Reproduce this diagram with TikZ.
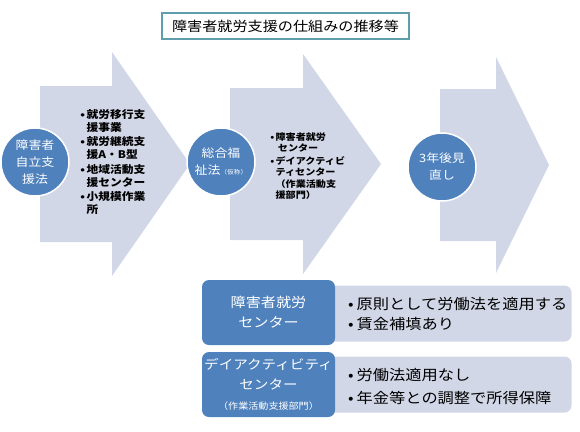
\documentclass[tikz,border=0pt]{standalone}
\usepackage{fontspec}
\setmainfont[FakeStretch=1.12]{Noto Sans CJK JP}
\usetikzlibrary{positioning}
\definecolor{cblue}{HTML}{4F81BD}
\definecolor{cpale}{HTML}{D2D7E7}
\definecolor{cteal}{HTML}{5E9FAB}
\newcommand{\bul}{\makebox[0.6em][l]{•}}
\newcommand{\hang}{\hspace*{0.6em}}
\tikzset{
  every picture/.style={line width=1pt},
  bigarrow/.style={fill=cpale},
  stage/.style={circle, fill=cblue, draw=white, line width=1.5pt, text=white, align=center, minimum size=68pt, inner sep=0pt, font=\fontsize{11.5}{17}\selectfont},
  items/.style={align=left, inner sep=0pt, font=\bfseries\fontsize{10.5}{13}\selectfont},
  lawbox/.style={fill=cblue, rounded corners=7pt, text=white, align=center, minimum width=133pt, minimum height=65pt, inner sep=0pt, font=\fontsize{13.5}{20}\selectfont},
  rulebox/.style={fill=cpale, rounded corners=7pt, minimum width=250pt, minimum height=56pt},
  ruletext/.style={align=left, inner sep=0pt, font=\fontsize{14.5}{20}\selectfont},
  title/.style={draw=cteal, line width=1.6pt, minimum width=247pt, minimum height=26pt, font=\fontsize{13.5}{16}\selectfont},
}

\begin{document}
\begin{tikzpicture}[x=1pt, y=-1pt, node distance=10pt]
  \useasboundingbox (0,0) rectangle (580,431);
  \node[title] (head) at (285.5,26) {障害者就労支援の仕組みの推移等};
  % three steps
  \fill[bigarrow] (40,86) -- (112,86) -- (112,52) -- (190,164) -- (112,276) -- (112,242) -- (40,242) -- cycle;
  \fill[bigarrow] (230,88) -- (303,88) -- (303,54) -- (381,164) -- (303,274) -- (303,240) -- (230,240) -- cycle;
  \fill[bigarrow] (440,89) -- (496,89) -- (496,57) -- (549,165) -- (496,273) -- (496,241) -- (440,241) -- cycle;
  \node[stage] (law1) at (35,162) {障害者\\自立支\\援法};
  \node[stage] (law2) at (221,162) {総合福\\祉法{\fontsize{6}{6}\selectfont（仮称）}};
  \node[stage] (review) at (442,167) {3年後見\\直し};
  \node[items, right=10pt of law1] (list1) {\bul 就労移行支\\\hang 援事業\\[1.5pt]\bul 就労継続支\\\hang 援A・B型\\[1.5pt]\bul 地域活動支\\\hang 援センター\\[1.5pt]\bul 小規模作業\\\hang 所};
  \node[items, font=\bfseries\fontsize{9}{11.5}\selectfont, right=14pt of law2, yshift=-4pt] (list2) {\bul 障害者就労\\\hang\ センター\\[1pt]\bul デイアクティビ\\\hang ティセンター\\\hang （作業活動支\\\hang 援部門）};
  % comparison below
  \node[rulebox, anchor=east] (rule1) at (572,313.5) {};
  \node[lawbox] (center1) at (268.5,312.5) {障害者就労\\センター};
  \node[ruletext, right=12pt of center1, yshift=-2pt] (text1) {\bul 原則として労働法を適用する\\\bul 賃金補填あり};
  \node[rulebox, anchor=east] (rule2) at (572,384.5) {};
  \node[lawbox, font=\fontsize{13}{20}\selectfont] (center2) at (268.5,384.5) {デイアクティビティ\\センター\\{\fontsize{9}{14}\selectfont （作業活動支援部門）}};
  \node[ruletext, right=12pt of center2, yshift=-2pt] (text2) {\bul 労働法適用なし\\[3pt]\bul 年金等との調整で所得保障};
\end{tikzpicture}
\end{document}
